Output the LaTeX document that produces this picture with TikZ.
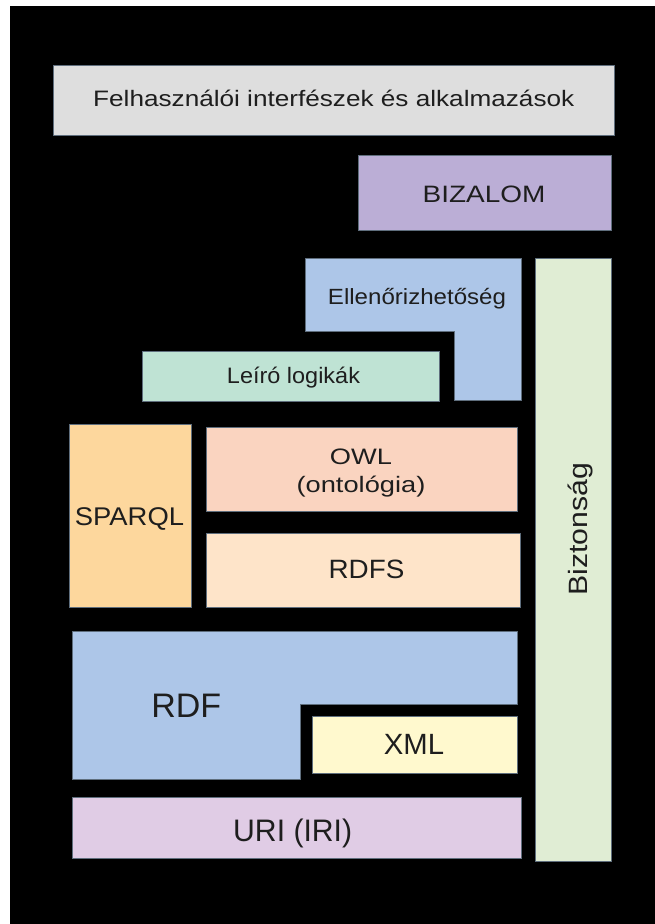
\documentclass[tikz,border=0pt]{standalone}
\usepackage{fontspec}
\setmainfont{Liberation Sans}
\usepackage{graphicx}
\definecolor{bordercol}{RGB}{95,110,125}
\definecolor{txtcol}{RGB}{30,30,30}
\definecolor{cTop}{RGB}{222,222,222}
\definecolor{cBiz}{RGB}{187,174,214}
\definecolor{cBlue}{RGB}{173,198,232}
\definecolor{cSec}{RGB}{224,237,212}
\definecolor{cLeiro}{RGB}{191,227,212}
\definecolor{cSparql}{RGB}{253,215,157}
\definecolor{cOwl}{RGB}{250,212,192}
\definecolor{cRdfs}{RGB}{254,228,201}
\definecolor{cXml}{RGB}{255,249,206}
\definecolor{cUri}{RGB}{224,204,229}
\begin{document}
\begin{tikzpicture}[x=1pt,y=-1pt,
  box/.style={draw=bordercol, line width=0.9pt},
  lbl/.style={anchor=base, inner sep=0pt, text=txtcol}]
\useasboundingbox (0,0) rectangle (655,924);
\fill[white] (0,0) rectangle (655,924);
\fill[black] (10,6) rectangle (655,924);
% boxes
\path[box, fill=cTop] (53.3,65) rectangle (614,135);
\path[box, fill=cBiz] (358.7,155) rectangle (611,230.7);
\path[box, fill=cBlue] (305,258) -- (521,258) -- (521,400) -- (454.7,400) -- (454.7,331) -- (305,331) -- cycle;
\path[box, fill=cSec] (535.3,258) rectangle (611,861.7);
\path[box, fill=cLeiro] (142,351) rectangle (439.3,401);
\path[box, fill=cSparql] (69.3,424) rectangle (191,607.5);
\path[box, fill=cOwl] (206,427) rectangle (517,511);
\path[box, fill=cRdfs] (206,533) rectangle (520.3,607.5);
\path[box, fill=cBlue] (72,631) -- (517.7,631) -- (517.7,704) -- (300.7,704) -- (300.7,779) -- (72,779) -- cycle;
\path[box, fill=cXml] (312.3,716) rectangle (517,773);
\path[box, fill=cUri] (72.3,797) rectangle (521,858);
% labels
\node[lbl, font=\fontsize{22.35}{26}\selectfont] (tTop) at (333.75,106.7) {\scalebox{1.17}[1]{Felhasználói interfészek és alkalmazások}};
\node[lbl, font=\fontsize{23.7}{27}\selectfont] (tBiz) at (484,202.7) {\scalebox{1.18}[1]{BIZALOM}};
\node[lbl, font=\fontsize{22}{26}\selectfont] (tEll) at (417,304) {\scalebox{1.095}[1]{Ellenőrizhetőség}};
\node[lbl, font=\fontsize{22.35}{26}\selectfont] (tLeiro) at (293.5,383) {\scalebox{1.05}[1]{Leíró logikák}};
\node[lbl, font=\fontsize{25.6}{30}\selectfont] (tSparql) at (129.5,525.3) {\scalebox{1.07}[1]{SPARQL}};
\node[lbl, font=\fontsize{22.35}{26}\selectfont] (tOwl) at (361,464) {\scalebox{1.22}[1]{OWL}};
\node[lbl, font=\fontsize{22.35}{26}\selectfont] (tOnt) at (361,492) {\scalebox{1.22}[1]{(ontológia)}};
\node[lbl, font=\fontsize{26.5}{30}\selectfont] (tRdfs) at (366.5,578.7) {\scalebox{1.05}[1]{RDFS}};
\node[lbl, font=\fontsize{34}{38}\selectfont] (tRdf) at (186.2,717.7) {RDF};
\node[lbl, font=\fontsize{29.3}{33}\selectfont] (tXml) at (414,754.3) {XML};
\node[lbl, font=\fontsize{31.1}{35}\selectfont] (tUri) at (292.7,841) {\scalebox{0.97}[1]{URI (IRI)}};
\node[lbl, rotate=90, font=\fontsize{26.5}{30}\selectfont] (tSec) at (587,529.5) {\scalebox{1.14}[1]{Biztonság}};
\end{tikzpicture}
\end{document}
